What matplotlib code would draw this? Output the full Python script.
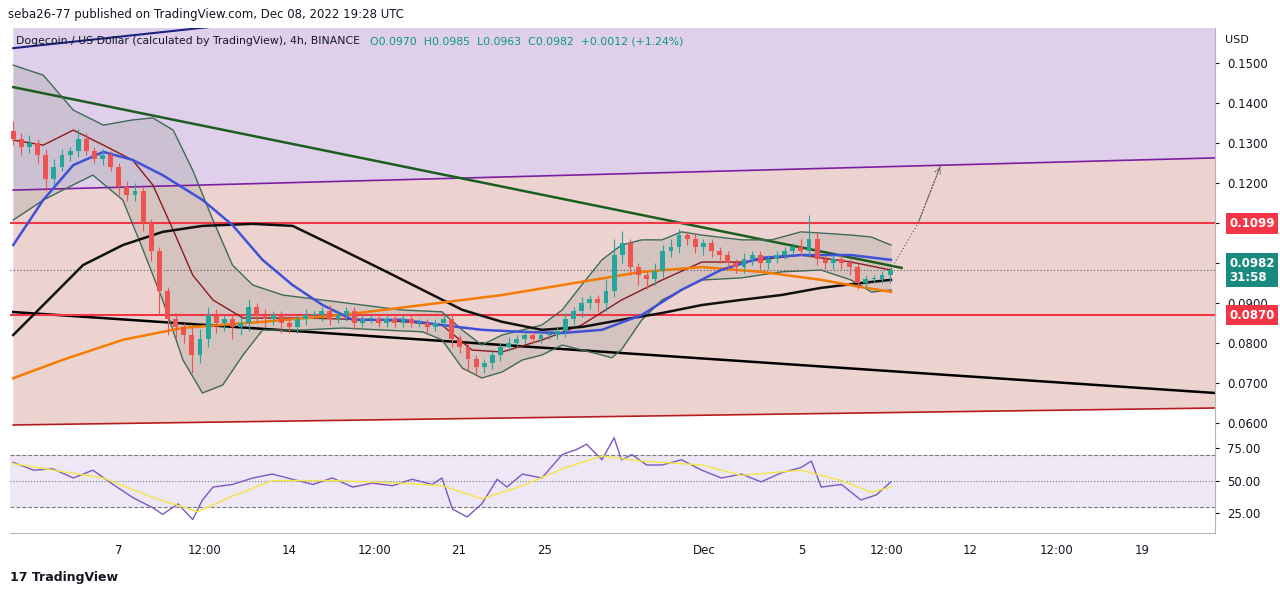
import numpy as np
import matplotlib
matplotlib.use('Agg')
import matplotlib.pyplot as plt
from matplotlib.patches import Polygon

plt.rcParams['font.family'] = 'DejaVu Sans'

# ---- candles (8h steps, x = bar index) ----
closes = [0.131, 0.129, 0.130, 0.127, 0.121, 0.124, 0.127, 0.128, 0.131, 0.128,
          0.126, 0.127, 0.124, 0.119, 0.117, 0.118, 0.110, 0.103, 0.093, 0.086,
          0.084, 0.082, 0.077, 0.081, 0.087, 0.085, 0.086, 0.084, 0.085, 0.089,
          0.087, 0.086, 0.087, 0.085, 0.084, 0.086, 0.087, 0.087, 0.088, 0.086,
          0.087, 0.088, 0.085, 0.086, 0.086, 0.085, 0.086, 0.085, 0.086, 0.085,
          0.085, 0.084, 0.085, 0.086, 0.081, 0.079, 0.076, 0.074, 0.075, 0.077,
          0.079, 0.080, 0.081, 0.082, 0.081, 0.082, 0.082, 0.083, 0.086, 0.088,
          0.090, 0.091, 0.090, 0.093, 0.102, 0.105, 0.099, 0.097, 0.096, 0.098,
          0.103, 0.104, 0.107, 0.106, 0.104, 0.105, 0.103, 0.102, 0.100, 0.099,
          0.101, 0.102, 0.100, 0.101, 0.102, 0.103, 0.104, 0.103, 0.106, 0.101,
          0.100, 0.101, 0.100, 0.099, 0.095, 0.096, 0.096, 0.097, 0.0982]
first_open = 0.133
# wick lengths in 1e-4 price units
wick_up = [25, 15, 20, 10, 15, 20, 15, 10, 25, 15, 10, 15, 10, 10, 15, 20, 10, 10, 10, 10,
           15, 10, 20, 25, 20, 15, 10, 10, 15, 20, 10, 15, 10, 10, 15, 10, 15, 10, 10, 15,
           10, 10, 10, 10, 10, 10, 10, 10, 10, 10, 10, 10, 10, 10, 10, 10, 10, 10, 10, 10,
           10, 15, 10, 10, 10, 10, 10, 10, 15, 10, 15, 10, 10, 30, 40, 30, 10, 10, 10, 20,
           15, 20, 15, 10, 15, 10, 10, 10, 10, 10, 15, 10, 10, 10, 10, 10, 10, 20, 60, 15,
           10, 10, 10, 10, 10, 10, 10, 10, 5]
wick_dn = [15, 20, 15, 20, 30, 15, 10, 15, 15, 10, 10, 15, 10, 20, 15, 15, 20, 25, 60, 40,
           30, 20, 45, 20, 20, 25, 20, 30, 20, 20, 20, 20, 15, 25, 15, 15, 15, 10, 15, 15,
           10, 15, 15, 10, 10, 10, 10, 10, 10, 10, 10, 15, 10, 10, 20, 15, 30, 20, 15, 15,
           15, 10, 10, 10, 10, 10, 10, 10, 15, 15, 15, 15, 20, 20, 15, 20, 20, 25, 25, 15,
           15, 15, 15, 15, 15, 20, 15, 20, 15, 15, 15, 15, 15, 15, 10, 10, 10, 10, 15, 15,
           15, 15, 15, 20, 15, 15, 10, 10, 19]

# ---- indicator lines (bar index, price) ----
blue_x = [0, 3.7, 7.4, 11.1, 14.7, 18.4, 23.3, 27, 30.7, 34.4, 38.1, 41.8, 47.9, 52.8, 57.7,
          62.7, 67.6, 72.5, 77.4, 82.3, 87.2, 92.1, 97, 103.2, 108.1]
blue_y = [.1045, .1158, .1245, .1278, .1258, .122, .1158, .1095, .1008, .0945, .0895, .0858,
          .0858, .0845, .0833, .0828, .0825, .0833, .087, .0933, .0983, .1013, .102, .102, .1008]
black_x = [0, 3.7, 8.6, 13.5, 18.4, 23.3, 29.5, 34.4, 39.3, 45.5, 50.4, 55.3, 60.2, 65.1, 70,
           74.9, 79.9, 84.8, 89.7, 94.6, 99.5, 104.4, 108.1]
black_y = [.082, .0895, .0995, .1045, .1078, .1093, .1098, .1093, .1045, .0983, .0933, .0883,
           .0853, .0833, .084, .0858, .0875, .0895, .0908, .092, .0938, .095, .0958]
orange_x = [0, 6.1, 13.5, 20.9, 30.7, 40.5, 50.4, 60.2, 70, 77.4, 84.8, 92.1, 99.5, 104.4, 108.1]
orange_y = [.0712, .0758, .0808, .0838, .0853, .087, .0895, .092, .0953, .0978, .099, .0978,
            .0958, .094, .0928]
bbu_x = [0, 3.7, 7.4, 11.1, 14.7, 17.2, 19.7, 22.1, 24.6, 27, 29.5, 33.2, 38.1, 43, 47.9, 52.8,
         55.3, 57.7, 60.2, 62.7, 65.1, 67.6, 70, 72.5, 74.9, 77.4, 79.9, 82.3, 84.8, 89.7, 93.4,
         97, 99.5, 103.2, 105.7, 108.1]
bbu_y = [.1495, .147, .13825, .1345, .1358, .1363, .13325, .12325, .11075, .0995, .0945, .092,
         .09075, .0895, .08825, .0878, .08325, .0795, .082, .08325, .0845, .08825, .0945, .1008,
         .1045, .1058, .1058, .1078, .107, .1058, .1058, .1078, .1075, .107, .1065, .1045]
bbl_x = [0, 3.7, 6.1, 9.8, 13.5, 16, 18.4, 20.9, 23.3, 25.8, 28.3, 30.7, 35.6, 40.5, 45.5, 50.4,
         52.8, 55.3, 57.7, 60.2, 62.7, 65.1, 67.6, 72.5, 73.7, 74.9, 77.4, 79.9, 84.8, 89.7, 94.6,
         99.5, 103.2, 105.7, 108.1]
bbl_y = [.11075, .11575, .11825, .122, .11575, .10325, .09075, .07575, .0675, .0695, .077,
         .08325, .08325, .08375, .08325, .0828, .0808, .07375, .07125, .07275, .07575, .077,
         .0795, .077, .0763, .0783, .08575, .09075, .09575, .0963, .0978, .09825, .09575,
         .09275, .09325]
bbm_x = [0, 3.7, 7.4, 11.1, 14.7, 17.2, 19.7, 22.1, 24.6, 28.3, 35.6, 45.5, 52.8, 56.5, 60.2,
         65.1, 70, 74.9, 79.9, 84.8, 89.7, 97, 103.2, 108.1]
bbm_y = [.13075, .1295, .13325, .1295, .12575, .1195, .10825, .097, .09075, .08625, .08625,
         .08575, .0845, .07825, .07775, .08075, .0845, .09075, .09575, .10025, .10025, .102,
         .10025, .09825]

# ---- drawn trend lines ----
purple_line = ([0, 148], [0.11825, 0.1263])
red_bottom = ([0, 148], [0.0595, 0.06375])
green_line = ([0, 109.4], [0.144, 0.0988])
black_line = ([0, 148], [0.08775, 0.0675])
navy_line = ([0, 40], [0.15375, 0.1625])
arrow_path = ([108.1, 111.4, 114.3], [0.0985, 0.1098, 0.1248])
res_level, sup_level, last_price = 0.1099, 0.0870, 0.0982

# ---- RSI ----
rsi_x = [0, 2.5, 4.9, 7.4, 9.8, 12.3, 14.7, 17.2, 18.4, 20.3, 22.1, 23.3, 24.6, 27, 29.5, 31.9,
         34.4, 36.9, 39.3, 41.8, 44.2, 46.7, 49.1, 51.6, 52.8, 54.1, 55.9, 57.7, 59.6, 60.8,
         62.7, 65.1, 67.6, 69.4, 70.6, 72.5, 74, 74.9, 76.2, 78, 79.9, 82.3, 84.8, 87.2, 89.7,
         92.1, 94.6, 97, 98.3, 99.5, 102, 104.4, 106.3, 108.1]
rsi_y = [64, 58, 59, 52, 58, 47, 37, 29, 24, 32, 20, 35, 45, 47, 52, 55, 51, 47, 52, 45, 48,
         46, 51, 47, 52, 28, 22, 32, 51, 45, 55, 52, 70, 74, 78, 66, 83, 66, 70, 62, 62, 66,
         58, 52, 55, 49, 56, 60, 65, 45, 47, 35, 39, 49]
rsima_x = [0, 4.9, 11.1, 17.2, 22.7, 27, 31.9, 39.3, 47.9, 52.8, 57.7, 62.7, 67.6, 72.5, 77.4,
           84.8, 89.7, 97, 102, 105.7, 108.1]
rsima_y = [63, 58, 52, 37, 26, 38, 50, 50, 48, 46, 36, 46, 59, 69, 65, 62, 54, 58, 50, 41, 45]

tick_pos = [13.0, 23.5, 34, 44.5, 54.9, 65.4, 85.1, 97.1, 107.6, 117.9, 128.5, 139]
tick_lab = ['7', '12:00', '14', '12:00', '21', '25', 'Dec', '5', '12:00', '12', '12:00', '19']
price_ticks = [0.06, 0.07, 0.08, 0.09, 0.10, 0.11, 0.12, 0.13, 0.14, 0.15]

UP, DN = '#26a69a', '#ef5350'
XL = (-0.4, 148)

fig = plt.figure(figsize=(12.8, 5.95), dpi=100)
ax = fig.add_axes([0.0078, 0.2824, 0.9414, 0.6706])
ax.set_xlim(*XL); ax.set_ylim(0.0590, 0.1588)

# background zones
px = np.array(purple_line[0]); py = np.array(purple_line[1])
ax.add_patch(Polygon([(px[0], py[0]), (px[1], py[1]), (px[1], 0.2), (px[0], 0.2)],
                     color='#e0cfea', zorder=0, lw=0))
ax.add_patch(Polygon([(px[0], py[0]), (px[1], py[1]), (px[1], red_bottom[1][1]),
                      (px[0], red_bottom[1][0])], color='#edd3d0', zorder=0, lw=0))
ax.plot(*purple_line, color='#7b1fa2', lw=1.2)
ax.plot(*red_bottom, color='#b71c1c', lw=1.2)
ax.plot(*navy_line, color='#1a237e', lw=1.5)
ax.plot(*green_line, color='#1b5e20', lw=1.8)
ax.plot(*black_line, color='#000000', lw=1.8)
ax.axhline(res_level, color='#f23645', lw=1.5)
ax.axhline(sup_level, color='#f23645', lw=1.5)
ax.axhline(last_price, color='#555555', lw=0.8, ls=(0, (1, 2)))

# bollinger
grid_x = np.linspace(0, 108.1, 300)
ax.fill_between(grid_x, np.interp(grid_x, bbl_x, bbl_y), np.interp(grid_x, bbu_x, bbu_y),
                color='#9e9e9e', alpha=0.3, lw=0, zorder=1)
ax.plot(bbu_x, bbu_y, color='#3d6b57', lw=1)
ax.plot(bbl_x, bbl_y, color='#3d6b57', lw=1)
ax.plot(bbm_x, bbm_y, color='#8b1a1a', lw=1)
ax.plot(black_x, black_y, color='#111111', lw=1.8, zorder=3)
ax.plot(orange_x, orange_y, color='#f57c00', lw=1.8, zorder=3)
ax.plot(blue_x, blue_y, color='#3f51d8', lw=1.8, zorder=3)

# candles
opens = [first_open] + closes[:-1]
for i, (o, c) in enumerate(zip(opens, closes)):
    col = UP if c >= o else DN
    ax.vlines(i, min(o, c) - wick_dn[i] * 1e-4, max(o, c) + wick_up[i] * 1e-4, color=col, lw=0.8, zorder=4)
    ax.bar(i, max(abs(c - o), 0.0003), bottom=min(o, c), width=0.6, color=col, zorder=5)

ax.plot(*arrow_path, color='#555555', lw=0.8, ls=(0, (1, 2)))
ax.annotate('', xy=(arrow_path[0][-1], arrow_path[1][-1]), xytext=(arrow_path[0][-2], arrow_path[1][-2]),
            arrowprops=dict(arrowstyle='->', color='#555555', lw=0.8, ls=':'))

ax.yaxis.tick_right()
ax.set_yticks(price_ticks)
ax.set_yticklabels([f'{v:.4f}' for v in price_ticks], fontsize=8.5, color='#131722')
ax.tick_params(axis='y', length=3, pad=6, colors='#131722')
ax.set_xticks([])
for s in ['top', 'left', 'bottom']:
    ax.spines[s].set_visible(False)
ax.spines['right'].set_color('#b2b5be')

for lvl, col, txt in [(res_level, '#f23645', '0.1099'), (sup_level, '#f23645', '0.0870'),
                      (last_price, '#1b8a7e', '0.0982\n31:58')]:
    ax.text(1.012, lvl, txt, transform=ax.get_yaxis_transform(), color='white', fontsize=8.5,
            fontweight='bold', va='center', ha='left', linespacing=1.1,
            bbox=dict(boxstyle='square,pad=0.3', fc=col, ec='none'), clip_on=False, zorder=10)

# RSI panel
ax2 = fig.add_axes([0.0078, 0.1042, 0.9414, 0.178])
ax2.set_xlim(*XL); ax2.set_ylim(9.6, 91.2)
ax2.axhspan(30, 70, color='#ede7f6', lw=0)
for lv, ls in [(70, '--'), (50, ':'), (30, '--')]:
    ax2.axhline(lv, color='#787b86', lw=0.8, ls=ls)
ax2.plot(rsi_x, rsi_y, color='#7e57c2', lw=1)
ax2.plot(rsima_x, rsima_y, color='#f5e642', lw=1)
ax2.yaxis.tick_right()
ax2.set_yticks([25, 50, 75]); ax2.set_yticklabels(['25.00', '50.00', '75.00'], fontsize=8.5, color='#131722')
ax2.tick_params(axis='y', length=3, pad=6)
ax2.set_xticks(tick_pos); ax2.set_xticklabels(tick_lab, fontsize=8.5, color='#131722')
ax2.tick_params(axis='x', length=0, pad=8)
for s in ['top', 'left']:
    ax2.spines[s].set_visible(False)
ax2.spines['right'].set_color('#b2b5be'); ax2.spines['bottom'].set_color('#b2b5be')

fig.text(0.006, 0.976, 'seba26-77 published on TradingView.com, Dec 08, 2022 19:28 UTC', fontsize=8.5,
         color='#131722', va='center')
fig.text(0.0125, 0.931, 'Dogecoin / US Dollar (calculated by TradingView), 4h, BINANCE', fontsize=7.8,
         color='#131722', va='center')
fig.text(0.289, 0.931, 'O0.0970  H0.0985  L0.0963  C0.0982  +0.0012 (+1.24%)', fontsize=7.8,
         color='#089981', va='center')
fig.text(0.957, 0.932, 'USD', fontsize=8, color='#131722', va='center')
fig.text(0.008, 0.029, '17 TradingView', fontsize=9, color='#131722', va='center', fontweight='bold')
fig.savefig('out.png', dpi=100, facecolor='white')
